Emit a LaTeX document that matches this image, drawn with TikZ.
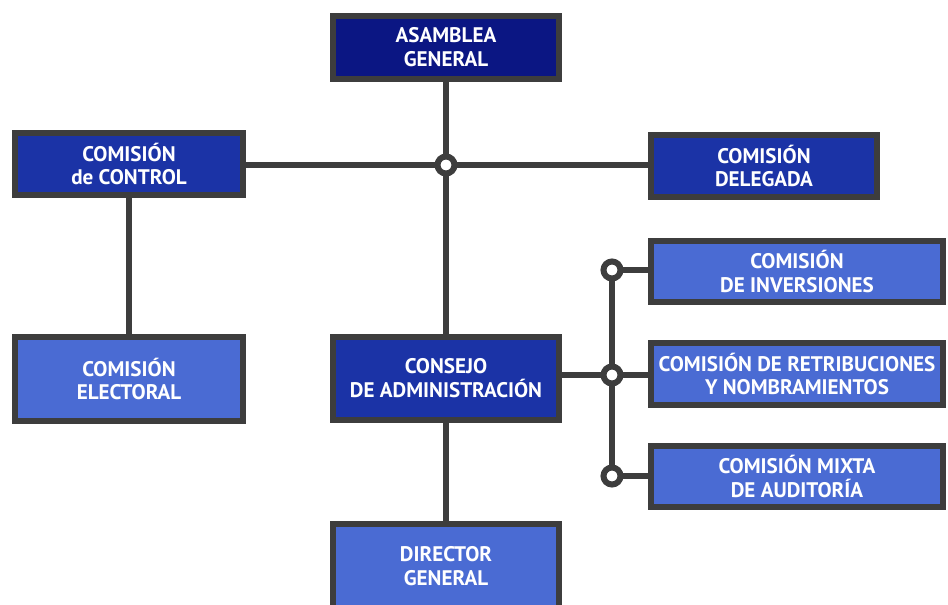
\documentclass[tikz,border=0pt]{standalone}
\usepackage{fontspec}
\setmainfont{PT Sans}
\definecolor{navy}{HTML}{0B1683}
\definecolor{midblue}{HTML}{1B33A6}
\definecolor{lightblue}{HTML}{4A6BD3}
\definecolor{edge}{HTML}{3D3D3D}
\tikzset{
    box/.style={draw=edge, line width=0.12cm, text=white, align=center,
        font=\bfseries\fontsize{12}{13.6}\selectfont, inner sep=0pt},
    link/.style={edge, line width=0.12cm},
    dot/.style={circle, draw=edge, fill=white, line width=0.12cm,
        minimum size=0.34cm, inner sep=0pt}
}

\begin{document}
\begin{tikzpicture}[x=0.02cm, y=-0.02cm]
    \useasboundingbox (0,0) rectangle (948,605);
    \clip (0,0) rectangle (948,605);
    % top level
    \node[box, fill=navy, minimum width=4.52cm, minimum height=1.26cm] (asamblea) at (446,47.5) {ASAMBLEA\\GENERAL};
    \node[box, fill=midblue, minimum width=4.56cm, minimum height=1.24cm] (control) at (129,164) {COMISIÓN\\de CONTROL};
    \node[box, fill=midblue, minimum width=4.52cm, minimum height=1.24cm] (delegada) at (764,166) {COMISIÓN\\DELEGADA};
    \node[box, fill=lightblue, minimum width=4.56cm, minimum height=1.68cm] (electoral) at (129,379) {COMISIÓN\\ELECTORAL};
    \node[box, fill=midblue, minimum width=4.54cm, minimum height=1.66cm] (consejo) at (446,378.5) {CONSEJO\\DE ADMINISTRACIÓN};
    \node[box, fill=lightblue, minimum width=4.54cm, minimum height=1.68cm] (director) at (446,566) {DIRECTOR\\GENERAL};
    % comisiones del consejo
    \node[box, fill=lightblue, minimum width=5.84cm, minimum height=1.22cm] (inversiones) at (797,271.5) {COMISIÓN\\DE INVERSIONES};
    \node[box, fill=lightblue, minimum width=5.84cm, minimum height=1.24cm] (retribuciones) at (797,374) {COMISIÓN DE RETRIBUCIONES\\Y NOMBRAMIENTOS};
    \node[box, fill=lightblue, minimum width=5.84cm, minimum height=1.22cm] (mixta) at (797,476.5) {COMISIÓN MIXTA\\DE AUDITORÍA};
    % junctions
    \coordinate (j1) at (446,165);
    \coordinate (j2) at (612,270);
    \coordinate (j3) at (612,375);
    \coordinate (j4) at (612,476);
    % links
    \draw[link] (asamblea.south) -- (j1) -- (consejo.north);
    \draw[link] (control.east |- j1) -- (j1) -- (delegada.west |- j1);
    \draw[link] (control.south) -- (electoral.north);
    \draw[link] (consejo.south) -- (director.north);
    \draw[link] (consejo.east |- j3) -- (j3);
    \draw[link] (j2) -- (j4);
    \draw[link] (j2) -- (inversiones.west |- j2);
    \draw[link] (j3) -- (retribuciones.west |- j3);
    \draw[link] (j4) -- (mixta.west |- j4);
    \foreach \j in {j1,j2,j3,j4}
        \node[dot] (\j dot) at (\j) {};
\end{tikzpicture}
\end{document}
